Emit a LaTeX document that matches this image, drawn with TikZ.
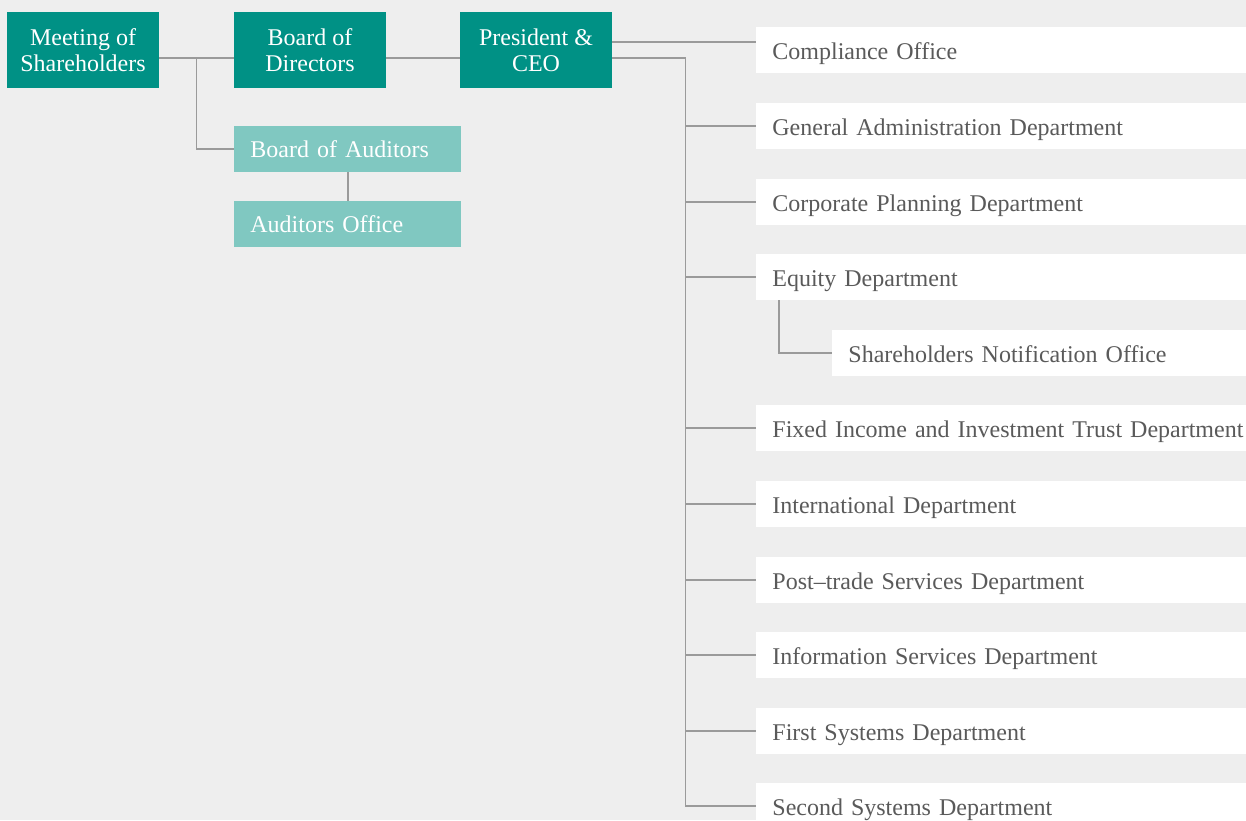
\documentclass[tikz,border=0pt]{standalone}
\usepackage{fontspec}
\setmainfont{Liberation Serif}
\usepackage{tikz}

\begin{document}
\begin{tikzpicture}[x=0.5pt,y=-0.5pt,font=\fontsize{12}{13}\selectfont,
	leitung/.style={fill=tuerkis, text=white, minimum width=76pt, minimum height=38pt, inner sep=0pt, align=center},
	pruefung/.style={fill=hellblau, text=white, anchor=west, minimum height=23pt, text width=97.5pt, inner xsep=8pt, inner ysep=0pt, align=left},
	abteilung/.style={fill=white, text=schrift, anchor=west, minimum height=23pt, text width=240pt, text height=9pt, text depth=0pt, inner xsep=8pt, inner ysep=0pt, align=left},
	verbindung/.style={linie, line width=0.6pt}]

		\definecolor{hintergrund}{HTML}{EEEEEE}
		\definecolor{tuerkis}{HTML}{009185}
		\definecolor{hellblau}{HTML}{80C8C1}
		\definecolor{schrift}{HTML}{5A5A5A}
		\definecolor{linie}{HTML}{9A9A9A}

		% Hintergrund
		\fill[hintergrund] (0,0) rectangle (1246,820);
		\useasboundingbox (0,0) rectangle (1246,820);

		% Leitung
		\node[leitung] (ms) at (83,50) {Meeting of\\Shareholders};
		\node[leitung] (bd) at (310,50) {Board of\\Directors};
		\node[leitung] (pr) at (536,50) {President \&\\CEO};

		% Pruefung
		\node[pruefung] (ba) at (234,149) {Board of Auditors};
		\node[pruefung] (ao) at (234,224) {Auditors Office};

		% Abteilungen
		\foreach \n/\y/\t in {co/50/Compliance Office,
				ga/126/General Administration Department,
				cp/202/Corporate Planning Department,
				eq/277/Equity Department,
				fi/428/Fixed Income and Investment Trust Department,
				id/504/International Department,
				pt/580/Post--trade Services Department,
				is/655/Information Services Department,
				fs/731/First Systems Department,
				ss/806/Second Systems Department}
			\node[abteilung] (\n) at (756,\y) {\t};
		\node[abteilung] (sn) at (832,353) {Shareholders Notification Office};

		% Verbindungen
		\draw[verbindung] ([yshift=-4pt]ms.east) -- ([yshift=-4pt]bd.west);
		\draw[verbindung] ([yshift=-4pt]ms.east) ++(18.5pt,0) |- (ba.west);
		\draw[verbindung] (ba) -- (ao);
		\draw[verbindung] ([yshift=-4pt]bd.east) -- ([yshift=-4pt]pr.west);
		\draw[verbindung] ([yshift=4pt]pr.east) -- ([yshift=4pt]pr.east -| co.west);
		\draw[verbindung] ([yshift=-4pt]pr.east) -- ++(36.5pt,0) coordinate (knick) |- (ss.west);
		\foreach \n in {ga,cp,eq,fi,id,pt,is,fs}
			\draw[verbindung] (knick |- \n.west) -- (\n.west);
		\draw[verbindung] ([xshift=11.5pt]eq.south west) |- (sn.west);

\end{tikzpicture}
\end{document}
